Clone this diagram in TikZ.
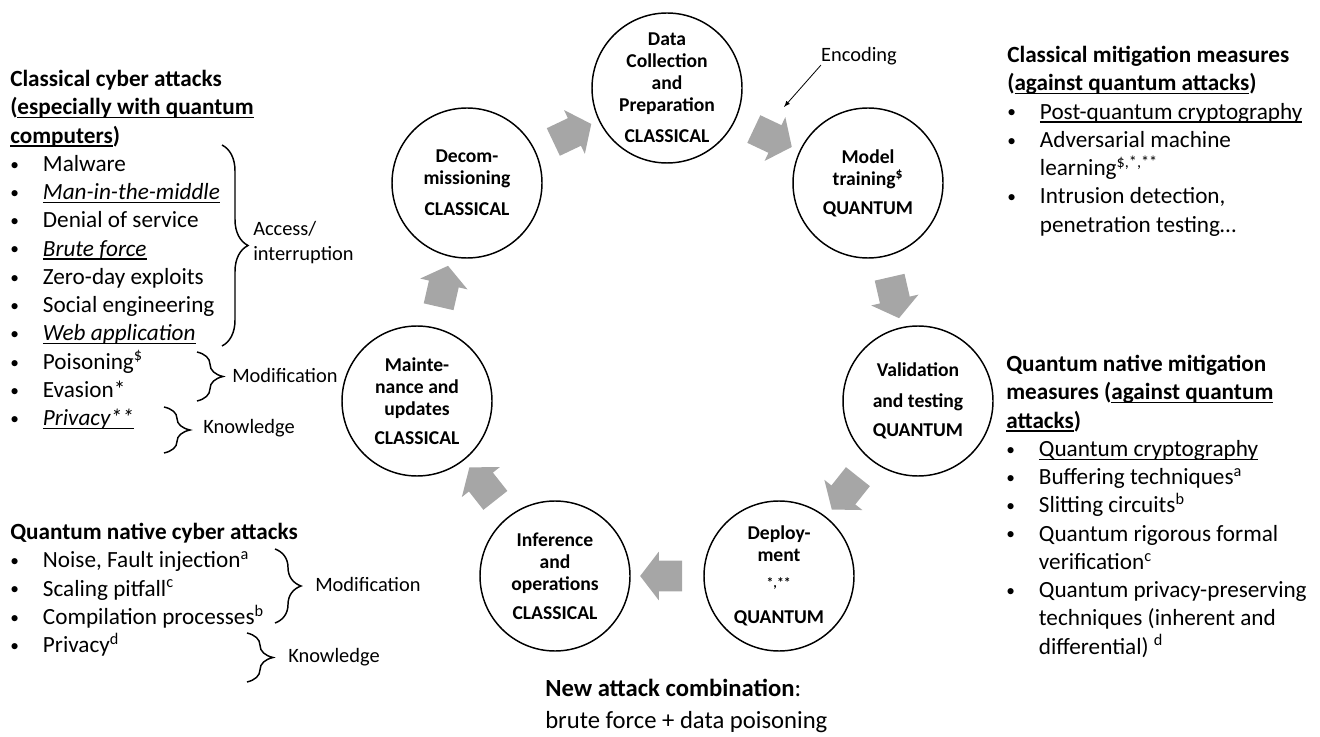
\documentclass[tikz,border=0pt]{standalone}
\usepackage{fontspec}
\setmainfont{Carlito}
\usepackage{tikz}
\usetikzlibrary{positioning}
\usetikzlibrary{arrows}
\usetikzlibrary{shapes.arrows}
\usetikzlibrary{decorations.pathreplacing}

\newcommand{\undl}[1]{\setbox0\hbox{#1}\rlap{\rule[-2.6pt]{\wd0}{0.9pt}}\box0}
\newcommand{\bul}{\makebox[24.5pt][l]{\raisebox{0.9pt}{\fontsize{13}{13}\selectfont\textbullet}}}

\begin{document}
\begin{tikzpicture}[x=0.75pt, y=-0.75pt,
phase/.style={circle, draw, line width=1.1pt, minimum size=112.5pt, inner sep=-10pt, align=center, font=\bfseries\fontsize{14.7}{16.5}\selectfont},
flow/.style={single arrow, fill=gray!70, draw=none, minimum height=31.5pt, single arrow head extend=6.75pt, single arrow tip angle=105, inner xsep=0pt, inner ysep=11.25pt, text height=0pt, text depth=0pt, sloped, allow upside down, midway},
body/.style={align=left, inner sep=0pt, font=\fontsize{17.4}{21.2}\selectfont},
note/.style={align=left, inner sep=0pt, font=\fontsize{15.3}{18.75}\selectfont},
curly/.style={decorate, decoration={brace, amplitude=19.5pt}, line width=1.1pt},
]
\useasboundingbox (0,0) rectangle (1320,737);

%Life cycle
\node[phase] (data)   at (667,88)  {Data\\Collection\\and\\Preparation\\[6.75pt]CLASSICAL};
\node[phase] (model)  at (868,183) {Model\\training\textsuperscript{\$}\\[5.25pt]QUANTUM};
\node[phase] (valid)  at (918,401) {Validation\\[6.75pt]and testing\\[5.25pt]QUANTUM};
\node[phase] (deploy) at (779,576) {Deploy-\\ment\\[8pt]\textsuperscript{*,**}\\[5pt]QUANTUM};
\node[phase] (infer)  at (555,576) {Inference\\and\\operations\\[5.25pt]CLASSICAL};
\node[phase] (maint)  at (417,401) {Mainte-\\nance and\\updates\\[5.25pt]CLASSICAL};
\node[phase] (decom)  at (467,183) {Decom-\\missioning\\[6.75pt]CLASSICAL};

%Arrows
\path (decom)  -- node[flow] {} (data);
\path (data)   -- node[flow] {} (model);
\path (model)  -- node[flow] {} (valid);
\path (valid)  -- node[flow] {} (deploy);
\path (deploy) -- node[flow] {} (infer);
\path (infer)  -- node[flow] {} (maint);
\path (maint)  -- node[flow] {} (decom);

\node[note, anchor=center] (enc) at (859,56) {Encoding};
\coordinate (encend) at (784,107);
\draw[-latex, line width=0.6pt] (enc.south west) -- (encend);

%Attacks
\node[body, anchor=north west] (clsatk) at (10,70) {\textbf{Classical cyber attacks}\\
\textbf{(\undl{especially with quantum}}\\
\textbf{\undl{computers})}\\
\bul Malware\\
\bul \undl{\textit{Man-in-the-middle}}\\
\bul Denial of service\\
\bul \undl{\textit{Brute force}}\\
\bul Zero-day exploits\\
\bul Social engineering\\
\bul \undl{\textit{Web application}}\\
\bul Poisoning\textsuperscript{\$}\\
\bul Evasion*\\
\bul \undl{\textit{Privacy**}}};

\draw[curly] (222,145) -- (222,346);
\node[note, anchor=west] (access) at (253,243) {Access/\\interruption};
\draw[curly] (197,352) -- (197,401);
\node[note, anchor=west] (modcls) at (232,375) {Modification};
\draw[curly] (164,407) -- (164,453);
\node[note, anchor=west] (knwcls) at (203,428) {Knowledge};

\node[body, anchor=north west] (qntatk) at (10,523) {\textbf{Quantum native cyber attacks}\\
\bul Noise, Fault injection\textsuperscript{a}\\
\bul Scaling pitfall\textsuperscript{c}\\
\bul Compilation processes\textsuperscript{b}\\
\bul Privacy\textsuperscript{d}};

\draw[curly] (275,549) -- (275,623);
\node[note, anchor=west] (modqnt) at (315,584) {Modification};
\draw[curly] (247,633) -- (247,682);
\node[note, anchor=west] (knwqnt) at (288,657) {Knowledge};

%Mitigation
\node[body, anchor=north west] (clsmit) at (1007,46) {\textbf{Classical mitigation measures}\\
\textbf{(\undl{against quantum attacks})}\\
\bul \undl{Post-quantum cryptography}\\
\bul Adversarial machine\\
\hspace*{24.5pt}learning\textsuperscript{\$,*,**}\\
\bul Intrusion detection,\\
\hspace*{24.5pt}penetration testing…};

\node[body, anchor=north west] (qntmit) at (1006,355) {\textbf{Quantum native mitigation}\\
\textbf{measures (\undl{against quantum}}\\
\textbf{\undl{attacks})}\\
\bul \undl{Quantum cryptography}\\
\bul Buffering techniques\textsuperscript{a}\\
\bul Slitting circuits\textsuperscript{b}\\
\bul Quantum rigorous formal\\
\hspace*{24.5pt}verification\textsuperscript{c}\\
\bul Quantum privacy-preserving\\
\hspace*{24.5pt}techniques (inherent and\\
\hspace*{24.5pt}differential) \textsuperscript{d}};

\node[align=left, inner sep=0pt, font=\fontsize{18.5}{24}\selectfont, anchor=north west] (combo) at (545,679) {\textbf{New attack combination}:\\brute force + data poisoning};
\end{tikzpicture}
\end{document}
